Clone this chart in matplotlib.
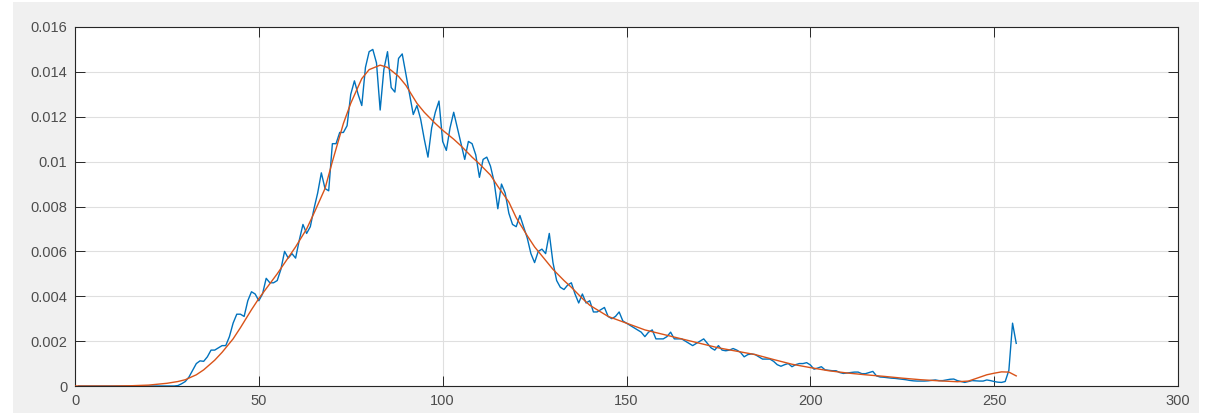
import numpy as np
import matplotlib
matplotlib.use("Agg")
import matplotlib.pyplot as plt
from matplotlib.patches import Rectangle

# Blue noisy histogram, x = 1..256
hist_x = list(range(1, 257))
hist_y = (
    [0.0] * 27 +
    [0.00002, 0.0001, 0.0002, 0.0004, 0.0007, 0.0010, 0.00112, 0.0011, 0.0013, 0.0016,   # 28-37
     0.0016, 0.0017, 0.0018, 0.0018, 0.0022, 0.0028, 0.0032, 0.0032, 0.0031, 0.0038,     # 38-47
     0.0042, 0.0041, 0.0038, 0.0041, 0.0048, 0.0046, 0.0046, 0.0047, 0.0052, 0.0060,     # 48-57
     0.0057, 0.0059, 0.0057, 0.0065, 0.0072, 0.0068, 0.0071, 0.0079, 0.0086, 0.0095,     # 58-67
     0.0088, 0.0087, 0.0108, 0.0108, 0.0113, 0.0113, 0.0116, 0.0130, 0.0136, 0.0130,     # 68-77
     0.0125, 0.0142, 0.0149, 0.0150, 0.0144, 0.0123, 0.0141, 0.0149, 0.0133, 0.0131,     # 78-87
     0.0146, 0.0148, 0.0139, 0.0130, 0.0121, 0.0125, 0.0119, 0.0110, 0.0102, 0.0115,     # 88-97
     0.0122, 0.0127, 0.0109, 0.0105, 0.0115, 0.0122, 0.0115, 0.0108, 0.0101, 0.0109,     # 98-107
     0.0108, 0.0103, 0.0093, 0.0101, 0.0102, 0.0098, 0.0091, 0.0079, 0.0090, 0.0086,     # 108-117
     0.0077, 0.0072, 0.0071, 0.0076, 0.0071, 0.0066, 0.0059, 0.0055, 0.0060, 0.0061,     # 118-127
     0.0059, 0.0068, 0.0055, 0.0047, 0.0044, 0.0043, 0.0045, 0.0046, 0.0041, 0.0037,     # 128-137
     0.0041, 0.0037, 0.0038, 0.0033, 0.0033, 0.0034, 0.0035, 0.0031, 0.0030, 0.0031,     # 138-147
     0.0033, 0.0029, 0.0028, 0.0027, 0.0026, 0.0025, 0.0024, 0.0022, 0.0024, 0.0025,     # 148-157
     0.0021, 0.0021, 0.0021, 0.0022, 0.0024, 0.0021, 0.0021, 0.0021, 0.0020, 0.0019,     # 158-167
     0.0018, 0.0019, 0.0020, 0.0021, 0.0019, 0.0017, 0.0016, 0.0018, 0.0016, 0.00157,    # 168-177
     0.0016, 0.00167, 0.0016, 0.0015, 0.0013, 0.0014, 0.00143, 0.0014, 0.0013, 0.0012,   # 178-187
     0.0012, 0.0012, 0.0011, 0.00095, 0.00088, 0.00095, 0.0010, 0.00086, 0.00095, 0.0010,  # 188-197
     0.0010, 0.00104, 0.00094, 0.00075, 0.0008, 0.00086, 0.00072, 0.0007, 0.00068, 0.00068,  # 198-207
     0.0006, 0.00056, 0.00058, 0.0006, 0.00062, 0.00062, 0.00055, 0.00055, 0.0006, 0.00065,  # 208-217
     0.00045, 0.0004, 0.00039, 0.00037, 0.00035, 0.00034, 0.00032, 0.0003, 0.00028, 0.00025,  # 218-227
     0.00023, 0.00022, 0.00022, 0.00022, 0.00023, 0.00025, 0.00027, 0.00024, 0.00024, 0.00027,  # 228-237
     0.0003, 0.00031, 0.00024, 0.0002, 0.00016, 0.0002, 0.00024, 0.00023, 0.00022, 0.00022,  # 238-247
     0.00027, 0.00024, 0.0002, 0.00017, 0.00016, 0.0002, 0.0007, 0.0028, 0.0019]           # 248-256
)

# Orange smooth fit
fit_x = [0, 5, 10, 15, 20, 25, 28, 30, 33, 35, 38, 40, 43, 45, 48, 50, 55, 60, 63, 65,
         68, 70, 73, 75, 78, 80, 83, 85, 88, 90, 93, 95, 98, 100, 103, 105, 108, 110, 113,
         115, 118, 120, 123, 125, 128, 130, 133, 135, 138, 140, 145, 150, 155, 160, 165,
         170, 175, 180, 185, 190, 195, 200, 205, 210, 215, 220, 225, 230, 235, 240, 243,
         245, 248, 250, 252, 254, 256]
fit_y = [0, 0, 0, 0.00001, 0.00004, 0.00012, 0.0002, 0.00028, 0.00050, 0.00072, 0.00115,
         0.0015, 0.0021, 0.0026, 0.0034, 0.0039, 0.0050, 0.0062, 0.0070, 0.0077,
         0.0088, 0.0100, 0.0117, 0.0126, 0.0137, 0.0141, 0.0143, 0.0142, 0.0138, 0.0134,
         0.0126, 0.0122, 0.0117, 0.0114, 0.0110, 0.0107, 0.0102, 0.0099, 0.0094,
         0.0089, 0.0082, 0.0075, 0.0067, 0.0062, 0.0056, 0.0052, 0.0047, 0.0044, 0.0039,
         0.0036, 0.0031, 0.0028, 0.0025, 0.0023, 0.0021, 0.0019, 0.0017, 0.00155,
         0.0014, 0.00118, 0.00097, 0.00082, 0.00068, 0.00058, 0.0005, 0.00043, 0.00035,
         0.00028, 0.00023, 0.00019, 0.00022, 0.00033, 0.0005, 0.00057, 0.00063, 0.00062,
         0.00045]

x_ticks = [0, 50, 100, 150, 200, 250, 300]
x_labels = ["0", "50", "100", "150", "200", "250", "300"]
y_ticks = [0, 0.002, 0.004, 0.006, 0.008, 0.01, 0.012, 0.014, 0.016]
y_labels = ["0", "0.002", "0.004", "0.006", "0.008", "0.01", "0.012", "0.014", "0.016"]

W, H = 1209, 413
fig = plt.figure(figsize=(W / 100, H / 100), dpi=100, facecolor="white")
bg = Rectangle((13 / W, 0), (1199 - 13) / W, 411 / H,
               transform=fig.transFigure, facecolor="#f0f0f0",
               edgecolor="none", zorder=-10)
fig.add_artist(bg)
ax = fig.add_axes([75 / W, (H - 386) / H, (1178 - 75) / W, (386 - 27) / H])
ax.set_zorder(5)
ax.set_facecolor("white")

ax.plot(hist_x, hist_y, color="#0072BD", lw=1.0, zorder=3)
ax.plot(fit_x, fit_y, color="#D95319", lw=1.0, zorder=4)

ax.set_xlim(0, 300)
ax.set_ylim(0, 0.016)
ax.set_xticks(x_ticks)
ax.set_xticklabels(x_labels)
ax.set_yticks(y_ticks)
ax.set_yticklabels(y_labels)

ax.grid(True, color="#dfdfdf", lw=0.8, zorder=0)
ax.set_axisbelow(True)
for s in ax.spines.values():
    s.set_color("#262626")
    s.set_linewidth(0.8)
ax.tick_params(axis="both", direction="in", length=7.5, width=0.7, color="#262626",
               labelcolor="#4d4d4d", labelsize=10.5, top=True, right=True)
ax.tick_params(axis="x", pad=6)
ax.tick_params(axis="y", pad=5.5)
for lab in ax.get_xticklabels() + ax.get_yticklabels():
    lab.set_fontfamily("Liberation Sans")

fig.savefig("out.png", dpi=100, facecolor=fig.get_facecolor())
